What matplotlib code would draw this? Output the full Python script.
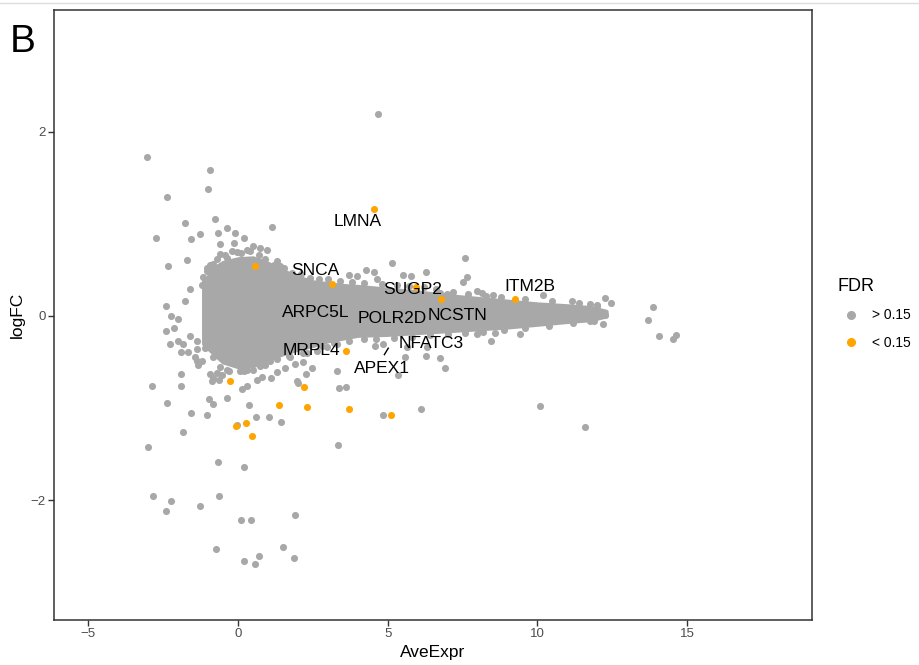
"""MA plot of the limma fit: average expression vs. log fold change, FDR-coloured."""
import matplotlib
matplotlib.use("Agg")
import matplotlib.pyplot as plt
from matplotlib.lines import Line2D

plt.rcParams["font.family"] = ["Liberation Sans", "DejaVu Sans"]

GREY = "#A8A8A8"
ORANGE = "#FFA500"

# dense bulk of non-significant genes: upper / lower envelope along AveExpr
core_x = [-1.15, -0.9, -0.5, 0.0, 0.5, 1.0, 1.5, 2.0, 2.5, 3.0, 3.5, 4.0,
          5.0, 6.0, 7.0, 8.0, 9.0, 10.0, 11.0, 11.8, 12.3]
core_hi = [0.30, 0.50, 0.58, 0.62, 0.63, 0.57, 0.49, 0.42, 0.37, 0.35, 0.33, 0.32,
           0.29, 0.26, 0.22, 0.19, 0.16, 0.13, 0.11, 0.09, 0.05]
core_lo = [-0.30, -0.38, -0.50, -0.55, -0.54, -0.47, -0.41, -0.36, -0.32, -0.27, -0.24, -0.21,
           -0.20, -0.18, -0.16, -0.14, -0.12, -0.09, -0.06, -0.04, 0.00]

# genes sitting on the rim of the bulk
rim_x = [-1.10, -0.95, -0.70, -0.45, -0.20, 0.10, 0.40, 0.70, 0.90, 1.20, 1.55, 1.80,
         2.10, 2.40, 2.70, 3.00, 3.40, 3.80, 4.20, 4.80, 5.30, 5.70, 6.20, 6.60, 7.20,
         7.70, 8.30, 8.80, 9.60, 10.50, 11.40, 12.00,
         -1.10, -0.85, -0.60, -0.30, 0.20, 0.50, 0.90, 1.30, 1.70, 2.30, 2.80, 3.20,
         3.70, 4.20, 4.60, 5.20, 5.80, 6.40, 7.00, 7.60, 8.20, 8.90, 9.60, 10.40, 11.20,
         11.90]
rim_y = [0.38, 0.55, 0.62, 0.66, 0.70, 0.68, 0.70, 0.66, 0.62, 0.55, 0.52, 0.47,
         0.46, 0.41, 0.40, 0.40, 0.38, 0.37, 0.36, 0.35, 0.34, 0.33, 0.31, 0.29, 0.26,
         0.24, 0.22, 0.20, 0.18, 0.16, 0.14, 0.12,
         -0.35, -0.45, -0.55, -0.60, -0.60, -0.59, -0.53, -0.47, -0.43, -0.40, -0.33, -0.29,
         -0.27, -0.25, -0.25, -0.24, -0.23, -0.21, -0.20, -0.18, -0.17, -0.15, -0.13, -0.11,
         -0.08, -0.05]

# FDR > 0.15 genes outside the bulk
grey_x = [-3.04, -0.94, -1.00, -2.37, -1.77, -0.77, 1.14, -2.74, -1.57, -1.27, -0.67, -0.37,
          -0.10, 0.20, -0.60, -0.13, -1.70, -2.34, -1.04, -2.41, -2.24, -2.00, -1.60,
          0.74, 0.96, 1.29, 1.40,
          4.67, 7.58, 5.15, 6.27, 4.28, 4.55, 3.71, 3.99, 5.52, 5.78, 7.64, 7.53, 4.63,
          6.99, 6.75, 7.97, 8.14, 8.53, 10.20, 11.17, 11.76, 11.98, 12.26, 12.45, 12.20,
          12.26, 11.76, 11.96,
          13.88, 13.69, 14.06, 14.55, 14.63, 11.60, 10.09,
          -2.41, -2.15, -1.59, -2.26, -1.91, -1.66, -1.37, -1.38, -1.33, -1.89, -2.88, -1.91,
          -1.99, -1.83, -1.38, -1.44, -1.21,
          -1.77, -1.21, -1.16, -1.05, -0.83, -0.60, -0.38, -0.04, 0.29, 0.51,
          -0.94, -0.83, -0.69, -0.55, -0.88, -0.63, -0.38, 0.07, 0.31, 0.12, 0.29, 0.62,
          0.79, 1.10, 1.29, 1.57, 1.90, 2.18, 2.46, 2.26, 2.01, -2.38, -1.57, -1.03, -0.96,
          -0.83, -0.38, 0.36, 0.59, 1.05, 1.43, -0.02, -1.85, -3.02, -0.66, 0.20,
          -2.85, -2.25, -2.41, -1.27, -0.62, 0.10, 0.44, 1.91, -0.75, 0.21, 0.71, 0.58,
          1.49, 1.88,
          3.30, 3.38, 3.60, 4.83, 6.10, 3.35, 5.36, 6.92, 6.75, 6.27, 5.58, 8.45, 9.42,
          4.58, 4.85, 6.30, 5.64, 7.97, 8.09, 8.59,
          0.74, 1.07, 1.74, 2.18, 2.63, 2.96, 3.30, 1.96]
grey_y = [1.72, 1.58, 1.38, 1.29, 1.01, 1.05, 0.97, 0.85, 0.84, 0.89, 0.90, 0.95,
          0.90, 0.85, 0.78, 0.79, 0.61, 0.54, 0.52, 0.11, 0.00, -0.03, 0.29,
          0.74, 0.71, 0.60, 0.54,
          2.19, 0.63, 0.57, 0.48, 0.50, 0.48, 0.44, 0.43, 0.44, 0.43, 0.42, 0.37, 0.40,
          0.24, 0.25, 0.27, 0.25, 0.23, 0.23, 0.16, 0.13, 0.11, 0.19, 0.14, -0.09,
          0.01, -0.05, 0.05,
          0.10, -0.04, -0.22, -0.25, -0.21, -1.21, -0.98,
          -0.16, -0.13, -0.22, -0.30, -0.39, -0.39, -0.36, -0.49, -0.53, -0.63, -0.76, -0.76,
          -0.27, -0.31, -0.27, -0.45, -0.49,
          0.16, 0.34, 0.42, 0.49, 0.56, 0.67, 0.63, 0.69, 0.71, 0.76,
          -0.63, -0.67, -0.62, -0.64, -0.71, -0.69, -0.59, -0.60, -0.59, -0.79, -0.76, -0.69,
          -0.66, -0.67, -0.61, -0.57, -0.52, -0.50, -0.57, -0.63, -0.73, -0.94, -1.05, -1.07, -0.90,
          -0.96, -0.89, -0.97, -1.10, -1.10, -1.15, -1.18, -1.26, -1.42, -1.58, -1.64,
          -1.95, -2.01, -2.12, -2.06, -1.95, -2.21, -2.22, -2.16, -2.53, -2.66, -2.61, -2.69,
          -2.51, -2.63,
          -0.60, -0.78, -0.77, -1.08, -1.01, -1.40, -0.64, -0.56, -0.46, -0.43, -0.45, -0.27, -0.20,
          -0.33, -0.30, -0.34, -0.34, -0.20, -0.14, -0.18,
          -0.54, -0.49, -0.45, -0.40, -0.38, -0.34, -0.31, -0.71]

# FDR < 0.15 genes
sig_x = [4.55, 0.57, 3.13, 5.95, 6.78, 9.27, 3.60, -0.27, 2.22, 2.32, 1.36, 0.28,
         -0.08, 0.48, 3.71, 5.12]
sig_y = [1.16, 0.54, 0.35, 0.31, 0.18, 0.185, -0.38, -0.71, -0.77, -0.99, -0.97, -1.16,
         -1.20, -1.30, -1.01, -1.08]

# labelled genes and where their labels sit
gene_names = ["LMNA", "SNCA", "SUGP2", "ITM2B", "ARPC5L", "POLR2D", "NCSTN", "NFATC3",
              "MRPL4", "APEX1"]
label_x = [4.01, 2.57, 5.85, 9.76, 2.61, 5.15, 7.32, 6.45, 2.44, 4.81]
label_y = [1.02, 0.49, 0.29, 0.32, 0.04, -0.03, 0.00, -0.30, -0.38, -0.57]

fig = plt.figure(figsize=(9.2, 6.65), dpi=100)
ax = fig.add_axes([54 / 920, 1 - 620 / 665, (812 - 54) / 920, (620 - 10) / 665])

ax.fill_between(core_x, core_lo, core_hi, color=GREY, lw=3, edgecolor=GREY, zorder=2)
ax.scatter(rim_x, rim_y, s=26, color=GREY, lw=0, zorder=2)
ax.scatter(grey_x, grey_y, s=26, color=GREY, lw=0, zorder=2)
ax.scatter(sig_x, sig_y, s=26, color=ORANGE, lw=0, zorder=3)

for name, lx, ly in zip(gene_names, label_x, label_y):
    ax.text(lx, ly, name, ha="center", va="center", fontsize=12.5, color="black", zorder=4)
# APEX1 label connector
ax.plot([4.89, 5.02], [-0.42, -0.35], color="black", lw=1, zorder=4)

ax.set_xlim(-6.15, 19.18)
ax.set_ylim(-3.30, 3.32)
ax.set_xticks([-5, 0, 5, 10, 15])
ax.set_xticklabels(["\u22125", "0", "5", "10", "15"])
ax.set_yticks([-2, 0, 2])
ax.set_yticklabels(["\u22122", "0", "2"])
ax.tick_params(direction="out", length=4, width=1, color="#333333",
               labelsize=9.5, labelcolor="#4D4D4D", pad=2)
for sp in ax.spines.values():
    sp.set_color("#333333")
    sp.set_linewidth(1.1)
ax.set_xlabel("AveExpr", fontsize=12.5, labelpad=3)
ax.set_ylabel("logFC", fontsize=12.5, labelpad=4)

handles = [Line2D([], [], marker="o", ls="", color=GREY, markersize=5.5),
           Line2D([], [], marker="o", ls="", color=ORANGE, markersize=5.5)]
leg = ax.legend(handles, ["> 0.15", "< 0.15"], title="FDR", loc="upper left",
                bbox_to_anchor=(832 / 920, 1 - 272 / 665), bbox_transform=fig.transFigure,
                frameon=False, fontsize=10, title_fontsize=13, alignment="left",
                handletextpad=0.5, labelspacing=1.0, borderaxespad=0)

fig.text(10 / 920, 1 - 52 / 665, "B", fontsize=28, ha="left", va="baseline")
fig.add_artist(Line2D([0, 1], [1 - 3 / 665, 1 - 3 / 665], color="#DDDDDD", lw=1))

fig.savefig("out.png", dpi=100)
